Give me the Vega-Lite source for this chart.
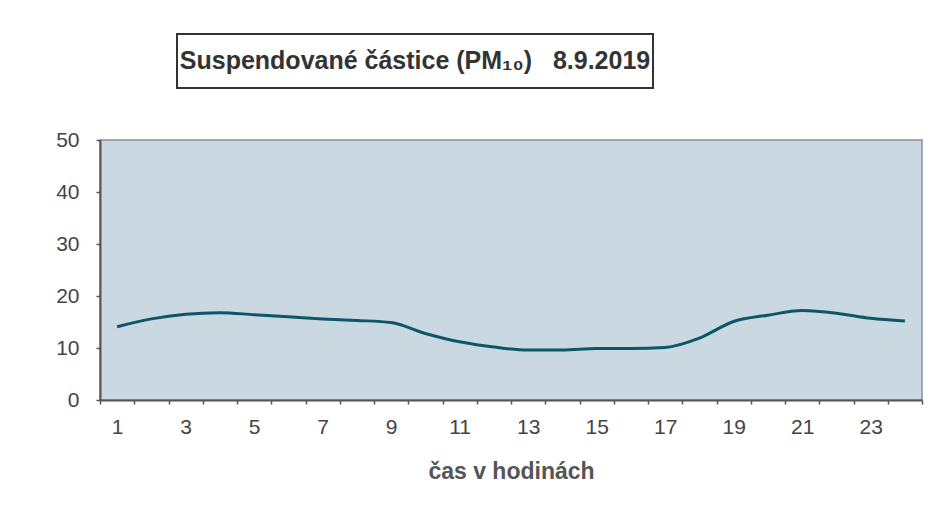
{
  "$schema": "https://vega.github.io/schema/vega-lite/v6.json",
  "background": "white",
  "padding": {"left": 54, "top": 33, "right": 10, "bottom": 5},
  "spacing": 39,
  "config": {
    "font": "Liberation Sans",
    "view": {"stroke": null}
  },
  "vconcat": [
    {
      "spacing": 0,
      "hconcat": [
        {
          "width": 76,
          "height": 54,
          "data": {"values": [{"t": ""}]},
          "mark": {"type": "text"},
          "encoding": {"text": {"field": "t"}}
        },
        {
          "width": 476,
          "height": 54,
          "view": {"stroke": "#333333", "strokeWidth": 2, "fill": "white"},
          "data": {"values": [{"t": "Suspendované částice (PM₁₀)\u00a0\u00a0\u00a08.9.2019"}]},
          "mark": {"type": "text", "font": "Liberation Sans", "fontWeight": "bold", "fontSize": 25, "color": "#333333", "baseline": "middle"},
          "encoding": {
            "text": {"field": "t"}
          }
        }
      ]
    },
    {
      "width": 822,
      "height": 260,
      "view": {"stroke": "#8a8f94", "strokeWidth": 1.5, "fill": "#cad9e1"},
      "data": {"values": [
        {"hour": 1, "pm10": 14.1},
        {"hour": 2, "pm10": 15.6},
        {"hour": 3, "pm10": 16.5},
        {"hour": 4, "pm10": 16.8},
        {"hour": 5, "pm10": 16.4},
        {"hour": 6, "pm10": 16.0},
        {"hour": 7, "pm10": 15.6},
        {"hour": 8, "pm10": 15.3},
        {"hour": 9, "pm10": 14.9},
        {"hour": 10, "pm10": 12.8},
        {"hour": 11, "pm10": 11.2},
        {"hour": 12, "pm10": 10.2},
        {"hour": 13, "pm10": 9.6},
        {"hour": 14, "pm10": 9.6},
        {"hour": 15, "pm10": 9.9},
        {"hour": 16, "pm10": 9.9},
        {"hour": 17, "pm10": 10.1},
        {"hour": 18, "pm10": 11.9},
        {"hour": 19, "pm10": 15.1},
        {"hour": 20, "pm10": 16.3},
        {"hour": 21, "pm10": 17.2},
        {"hour": 22, "pm10": 16.7},
        {"hour": 23, "pm10": 15.7},
        {"hour": 24, "pm10": 15.2}
      ]},
      "mark": {"type": "line", "color": "#0c5668", "strokeWidth": 3, "interpolate": "monotone"},
      "encoding": {
        "x": {
          "field": "hour", "type": "ordinal",
          "scale": {"type": "band", "paddingInner": 0, "paddingOuter": 0},
          "axis": {
            "title": "čas v hodinách",
            "titleFont": "Liberation Sans", "titleFontSize": 23, "titleFontWeight": "bold", "titleColor": "#555555", "titlePadding": 23,
            "labelAngle": 0, "labelFontSize": 21, "labelColor": "#444444", "labelPadding": 12, "labelFont": "Liberation Sans",
            "labelExpr": "datum.value % 2 == 1 ? datum.label : ''",
            "tickBand": "extent", "tickSize": 4, "tickColor": "#555555", "tickWidth": 1.5,
            "domainColor": "#555555", "domainWidth": 2, "grid": false
          }
        },
        "y": {
          "field": "pm10", "type": "quantitative",
          "scale": {"domain": [0, 50], "nice": false},
          "axis": {
            "title": null, "values": [0, 10, 20, 30, 40, 50],
            "labelFontSize": 21, "labelColor": "#444444", "labelPadding": 17, "labelFont": "Liberation Sans",
            "tickSize": 4, "tickColor": "#555555", "tickWidth": 1.5,
            "domainColor": "#555555", "domainWidth": 2, "grid": false,
            "minExtent": 45, "maxExtent": 45
          }
        }
      }
    }
  ]
}
